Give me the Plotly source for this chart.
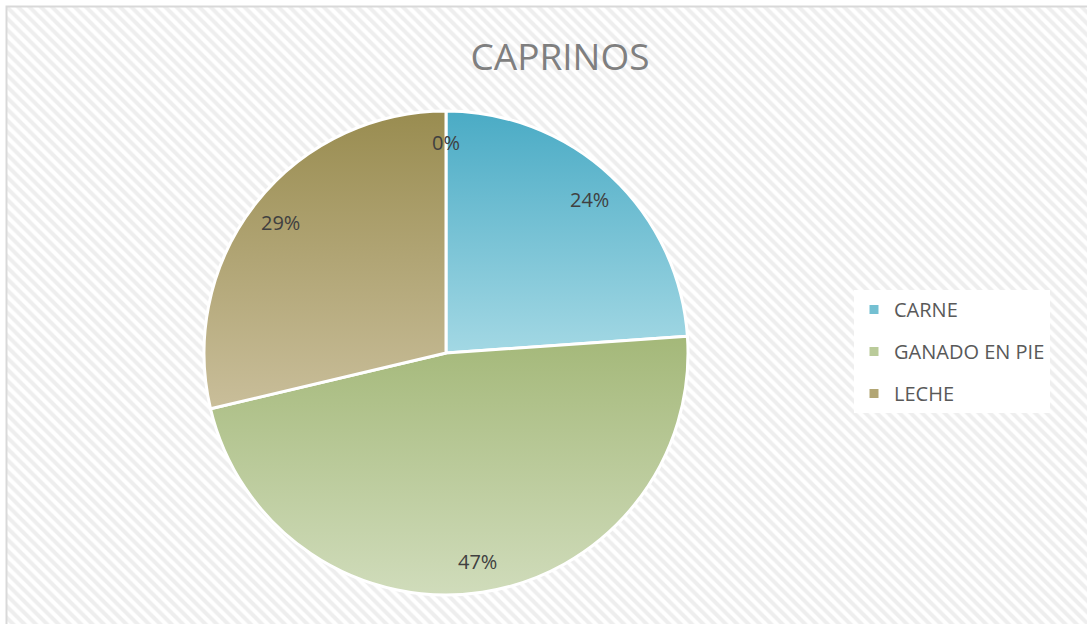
import math
import plotly.graph_objects as go

# datos del grafico
categorias = ["CARNE", "GANADO EN PIE", "LECHE", ""]
valores = [23.9, 47.4, 28.7, 0]

colores_arriba = ["#4aabc5", "#a4b879", "#998c50"]
colores_abajo = ["#a3d8e4", "#d0dcbb", "#c9be9a"]
colores_medios = ["#74c0d2", "#bacb9a", "#b2a674"]

W, H = 1087, 624
cx, cy, R = 446, 353, 242  # centro y radio del pastel en pixeles

fig = go.Figure()

# fondo rayado
fig.add_trace(go.Bar(x=[0], y=[1], width=[1],
                     marker=dict(color="white", line_width=0,
                                 pattern=dict(shape="\\", fgcolor="#dedede", bgcolor="white",
                                              size=8, solidity=0.5)),
                     hoverinfo="skip", showlegend=False))

fig.add_trace(go.Pie(labels=categorias[:3], values=valores[:3], sort=False,
                     direction="clockwise", rotation=0, textinfo="none",
                     marker=dict(colors=colores_medios, line=dict(color="white", width=3)),
                     domain=dict(x=[(cx - R) / W, (cx + R) / W],
                                 y=[1 - (cy + R) / H, 1 - (cy - R) / H]),
                     showlegend=False, hoverinfo="label+percent"))

# leyenda
for i in range(3):
    fig.add_trace(go.Scatter(x=[None], y=[None], mode="markers", name=categorias[i],
                             legendgroup=categorias[i],
                             marker=dict(symbol="square", size=9, color=colores_medios[i])))

# etiquetas de porcentaje
total = sum(valores)
acum = 0
anotaciones = []
for v in valores:
    ang = 2 * math.pi * (acum + v / 2) / total
    acum += v
    r = 0.87 * R
    anotaciones.append(dict(x=(cx + r * math.sin(ang)) / W, y=1 - (cy - r * math.cos(ang)) / H,
                            xref="paper", yref="paper", showarrow=False,
                            xanchor="center", yanchor="middle",
                            text=f"{round(100 * v / total)}%",
                            font=dict(size=20, color="#404040", family="Open Sans")))

fig.update_layout(
    width=W, height=H,
    margin=dict(l=0, r=0, t=0, b=0),
    paper_bgcolor="white", plot_bgcolor="white",
    font=dict(family="Open Sans"),
    title=dict(text="CAPRINOS", x=560 / W, xanchor="center", y=1 - 57 / H, yanchor="middle",
               font=dict(size=37, color="#7f7f7f", family="Open Sans")),
    xaxis=dict(domain=[7 / W, 1], range=[-0.5, 0.5], visible=False, fixedrange=True),
    yaxis=dict(domain=[0, 1 - 7 / H], range=[0, 1], visible=False, fixedrange=True),
    legend=dict(x=854 / W, y=1 - 290 / H, xanchor="left", yanchor="top",
                bgcolor="white", font=dict(size=20, color="#595959"),
                tracegroupgap=13, itemclick=False),
    annotations=anotaciones,
    shapes=[dict(type="rect", xref="paper", yref="paper", x0=6.5 / W, x1=1.05,
                 y0=-0.05, y1=1 - 6.5 / H, line=dict(color="#d9d9d9", width=2))],
)

# degradado vertical en cada porcion, como en el original
js = """
(function(){
document.body.style.margin = '0';
var gd = document.getElementById('{plot_id}');
var arriba = %s, abajo = %s;
function pintar(){
  var svg = gd.querySelector('svg.main-svg');
  var ns = 'http://www.w3.org/2000/svg';
  var defs = svg.querySelector('defs');
  gd.querySelectorAll('g.slice path.surface').forEach(function(p, i){
    var id = 'grad_porcion_' + i;
    if(!document.getElementById(id)){
      var g = document.createElementNS(ns, 'linearGradient');
      g.setAttribute('id', id);
      g.setAttribute('x1', '0'); g.setAttribute('y1', '0');
      g.setAttribute('x2', '0'); g.setAttribute('y2', '1');
      [[0, arriba[i]], [1, abajo[i]]].forEach(function(s){
        var st = document.createElementNS(ns, 'stop');
        st.setAttribute('offset', s[0]);
        st.setAttribute('stop-color', s[1]);
        g.appendChild(st);
      });
      defs.appendChild(g);
    }
    p.style.fill = 'url(#' + id + ')';
  });
}
pintar();
gd.on('plotly_afterplot', pintar);
})();
""" % (str(colores_arriba).replace("'", '"'), str(colores_abajo).replace("'", '"'))

fig.write_html("out.html", post_script=js, config={"displayModeBar": False})
